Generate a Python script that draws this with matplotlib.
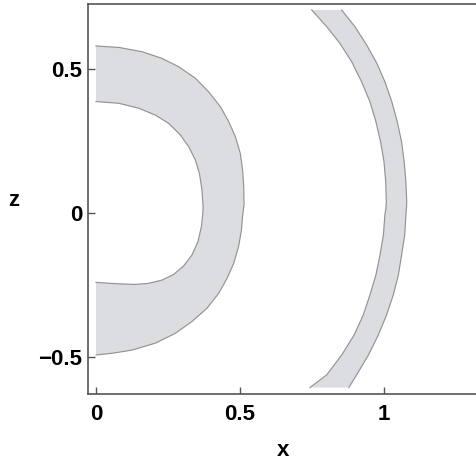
import matplotlib
matplotlib.use("Agg")
import matplotlib.pyplot as plt

plt.rcParams['font.family'] = ['Liberation Sans', 'DejaVu Sans']

# inner shell: outer edge (top -> bottom)
shell_out_x = [0.0, 0.079, 0.160, 0.229, 0.287, 0.345, 0.391, 0.432, 0.461, 0.484, 0.501,
               0.509, 0.513, 0.514, 0.509, 0.505, 0.495, 0.478, 0.455, 0.426, 0.385, 0.333,
               0.275, 0.206, 0.125, 0.056, 0.0]
shell_out_z = [0.581, 0.576, 0.561, 0.538, 0.509, 0.469, 0.422, 0.370, 0.318, 0.266, 0.208,
               0.150, 0.092, 0.030, -0.010, -0.058, -0.116, -0.174, -0.226, -0.278, -0.330, -0.376,
               -0.417, -0.451, -0.475, -0.486, -0.492]
# inner shell: inner edge (top -> bottom)
shell_in_x = [0.0, 0.079, 0.148, 0.206, 0.252, 0.293, 0.322, 0.345, 0.359, 0.368, 0.372,
              0.370, 0.366, 0.354, 0.333, 0.304, 0.270, 0.229, 0.183, 0.137, 0.079, 0.032, 0.0]
shell_in_z = [0.388, 0.382, 0.365, 0.341, 0.3125, 0.272, 0.231, 0.185, 0.139, 0.081, 0.020,
              -0.010, -0.046, -0.099, -0.145, -0.183, -0.212, -0.232, -0.243, -0.247, -0.245, -0.242, -0.240]

# outer band: left edge and right edge (top -> bottom)
band_left_x = [0.749, 0.801, 0.847, 0.888, 0.922, 0.951, 0.972, 0.988, 1.000, 1.006, 1.008,
               1.007, 1.003, 0.998, 0.986, 0.972, 0.951, 0.928, 0.896, 0.853, 0.801, 0.743]
band_left_z = [0.706, 0.648, 0.590, 0.526, 0.457, 0.388, 0.318, 0.249, 0.179, 0.110, 0.040,
               0.020, -0.006, -0.075, -0.145, -0.214, -0.284, -0.353, -0.423, -0.492, -0.561, -0.605]
band_right_x = [0.853, 0.899, 0.940, 0.975, 1.003, 1.027, 1.046, 1.061, 1.070, 1.076, 1.079,
                1.078, 1.076, 1.072, 1.061, 1.050, 1.032, 1.009, 0.980, 0.946, 0.905, 0.878]
band_right_z = [0.706, 0.648, 0.584, 0.521, 0.457, 0.388, 0.318, 0.249, 0.179, 0.110, 0.040,
                0.020, -0.006, -0.075, -0.145, -0.214, -0.284, -0.353, -0.423, -0.492, -0.561, -0.605]

x_ticks = [0, 0.5, 1]
x_labels = ['0', '0.5', '1']
z_ticks = [-0.5, 0, 0.5]
z_labels = ['\u22120.5', '0', '0.5']

fill_col = '#dcdde0'
edge_col = '#939393'
axis_col = '#555555'

fig = plt.figure(figsize=(4.76, 4.63), dpi=100)
ax = fig.add_axes([88 / 476, (463 - 394.3) / 463, 1 - 88 / 476, (394.3 - 4) / 463])

line_kw = dict(color=edge_col, lw=0.85, solid_joinstyle='round')

ax.fill(shell_out_x + shell_in_x[::-1], shell_out_z + shell_in_z[::-1],
        color=fill_col, lw=0)
ax.plot(shell_out_x, shell_out_z, **line_kw)
ax.plot(shell_in_x, shell_in_z, **line_kw)

ax.fill(band_left_x + band_right_x[::-1], band_left_z + band_right_z[::-1],
        color=fill_col, lw=0)
ax.plot(band_left_x, band_left_z, **line_kw)
ax.plot(band_right_x, band_right_z, **line_kw)

ax.set_xlim(-8 / 288, 380 / 288)
ax.set_ylim(-181 / 288, 209.3 / 288)

ax.set_xticks(x_ticks)
ax.set_xticklabels(x_labels, fontweight='bold')
ax.set_yticks(z_ticks)
ax.set_yticklabels(z_labels, fontweight='bold')
ax.tick_params(direction='in', length=5, width=1, color=axis_col, labelsize=16)
ax.tick_params(axis='x', pad=7)
ax.tick_params(axis='y', pad=4)

for side in ['left', 'bottom', 'top']:
    ax.spines[side].set_color(axis_col)
    ax.spines[side].set_linewidth(1.2)
ax.spines['right'].set_visible(False)

fig.text(14 / 476, 1 - 200 / 463, 'z', fontsize=16, fontweight='bold', ha='center', va='center')
fig.text(283 / 476, 1 - 450 / 463, 'x', fontsize=16, fontweight='bold', ha='center', va='center')

fig.savefig('out.png', dpi=100)
